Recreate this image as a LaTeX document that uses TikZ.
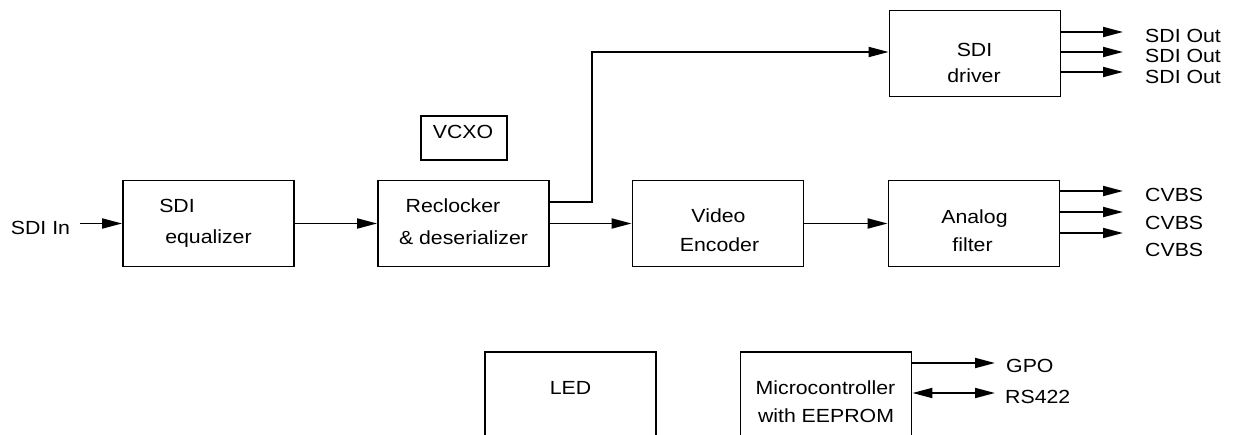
\documentclass[tikz,border=0pt]{standalone}
\usepackage{fontspec}
\setmainfont{Liberation Sans}[FakeStretch=1.12]
\usetikzlibrary{arrows.meta}
\begin{document}
\begin{tikzpicture}[x=1pt,y=-1pt,
  blk/.style={draw=black, line width=1.8pt, rectangle, minimum width=171pt, minimum height=86pt, inner sep=0pt},
  txt/.style={font=\fontsize{19}{21}\selectfont, inner sep=0pt, anchor=base},
  ltxt/.style={txt, anchor=base west},
  conn/.style={line width=1.8pt, -{Triangle[length=20pt,width=10pt]}},
  bconn/.style={line width=1.8pt, {Triangle[length=20pt,width=10pt]}-{Triangle[length=20pt,width=10pt]}},
  plain/.style={line width=1.8pt}]
\useasboundingbox (0,0) rectangle (1234,435);
\clip (0,0) rectangle (1234,435);
% boxes
\node[blk] (eq) at (208.5,223.5) {};
\node[blk] (rec) at (463.5,223.5) {};
\node[blk, minimum width=86pt, minimum height=44pt] (vcxo) at (464,138) {};
\node[blk] (venc) at (718,223.5) {};
\node[blk] (af) at (974,223.5) {};
\node[blk] (drv) at (975,53.5) {};
\node[blk] (led) at (570.5,395) {};
\node[blk] (mcu) at (826,395) {};
% texts
\node[txt] (tin) at (40.5,235) {SDI In};
\node[txt] at (177,213) {SDI};
\node[txt] at (208.5,244) {equalizer};
\node[txt] at (453,213) {Reclocker};
\node[txt] at (463.5,245) {\& deserializer};
\node[txt] at (463,139) {VCXO};
\node[txt] at (718.5,223) {Video};
\node[txt] at (719.5,252) {Encoder};
\node[txt] at (974.5,224) {Analog};
\node[txt] at (972.5,252) {filter};
\node[txt] at (974.5,57) {SDI};
\node[txt] at (974,83) {driver};
\node[ltxt] (so1) at (1145,43) {SDI Out};
\node[ltxt] (so2) at (1145,63) {SDI Out};
\node[ltxt] (so3) at (1145,84) {SDI Out};
\node[ltxt] (cv1) at (1145,202) {CVBS};
\node[ltxt] (cv2) at (1145,230) {CVBS};
\node[ltxt] (cv3) at (1145,257) {CVBS};
\node[txt] at (570.5,395) {LED};
\node[txt] at (825.5,395) {Microcontroller};
\node[txt] at (826,422) {with EEPROM};
\node[ltxt] (gpo) at (1006,373) {GPO};
\node[ltxt] (rs) at (1005,403) {RS422};
% coordinates
\coordinate (inS) at (80,223.5);
\coordinate (rb) at (592,202);
\coordinate (dIn) at (drv.west |- 0,52);
\coordinate (d1) at (1123,32);
\coordinate (d2) at (1123,52);
\coordinate (d3) at (1123,72);
\coordinate (a1) at (1123,191);
\coordinate (a2) at (1123,212);
\coordinate (a3) at (1123,233);
\coordinate (g1) at (995,363);
\coordinate (r1) at (995,393);
% connectors
\draw[conn] (inS) -- (eq.west);
\draw[conn] (eq.east) -- (rec.west);
\draw[conn] (rec.east) -- (venc.west);
\draw[conn] (venc.east) -- (af.west);
\draw[conn] (rec.east |- rb) -- (rb) -- (592,52) -- (dIn);
\draw[conn] (drv.east |- d1) -- (d1);
\draw[conn] (drv.east |- d2) -- (d2);
\draw[conn] (drv.east |- d3) -- (d3);
\draw[conn] (af.east |- a1) -- (a1);
\draw[conn] (af.east |- a2) -- (a2);
\draw[conn] (af.east |- a3) -- (a3);
\draw[conn] (mcu.east |- g1) -- (g1);
\draw[bconn] (mcu.east |- r1) -- (r1);
\end{tikzpicture}
\end{document}
